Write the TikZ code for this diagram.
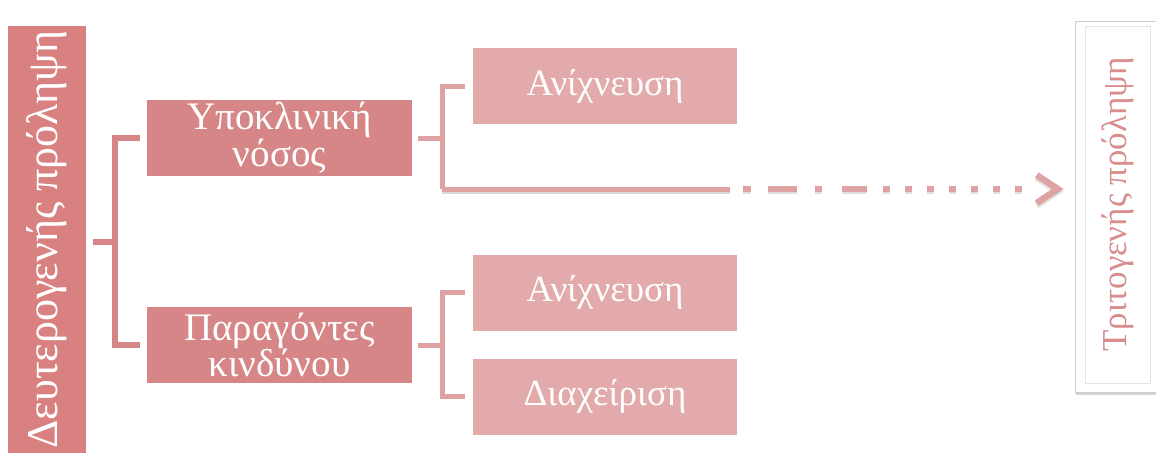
\documentclass[tikz,border=0pt]{standalone}
\usepackage{fontspec}
\setmainfont{Liberation Serif}
\usetikzlibrary{arrows.meta,shadows,calc}
\definecolor{rose}{RGB}{217,128,128}
\definecolor{roseMid}{RGB}{214,134,134}
\definecolor{roseLight}{RGB}{226,170,170}
\definecolor{roseLine}{RGB}{222,162,162}
\definecolor{roseText}{RGB}{216,140,140}
\definecolor{frameGray}{RGB}{205,205,205}

\begin{document}
\begin{tikzpicture}[x=1pt,y=-1pt,
  base/.style={rectangle, inner sep=0pt, text=white, align=center},
  sidebox/.style={base, fill=rose, minimum width=427pt, minimum height=78pt,
    font=\fontsize{44}{46}\selectfont},
  lvlone/.style={base, fill=roseMid, minimum width=265pt, minimum height=76pt,
    font=\fontsize{39}{32}\selectfont},
  lvltwo/.style={base, fill=roseLight, minimum width=264pt, minimum height=76pt,
    font=\fontsize{37}{40}\selectfont},
  brone/.style={draw=roseMid, line width=5.5pt},
  brtwo/.style={draw=roseLine, line width=5pt},
  dashpat/.style={dash pattern=on 0pt off 13pt on 8pt off 17pt on 29pt off 18pt on 7pt off 20pt
      on 25pt off 16pt on 7pt off 15pt on 7pt off 15pt on 7pt off 15pt on 7pt off 15pt
      on 7pt off 15pt on 7pt off 15pt on 7pt off 80pt},
  solidshadow/.style={preaction={draw=black, opacity=0.15, line width=5pt,
      transform canvas={yshift=-2.5pt}}},
  dashshadow/.style={preaction={draw=black, opacity=0.12, line width=5.5pt, dashpat,
      transform canvas={yshift=-2.5pt}}},
  dashpart/.style={draw=roseLine, line width=5.5pt, dashpat},
  outerframe/.style={rectangle, fill=white, draw=frameGray, line width=0.8pt,
    minimum width=91pt, minimum height=371pt, inner sep=0pt,
    drop shadow={opacity=0.35, shadow xshift=1pt, shadow yshift=-3pt}},
  innerframe/.style={rectangle, draw=black!10, line width=1pt, inner sep=0pt,
    minimum width=357pt, minimum height=65pt, text=roseText,
    font=\fontsize{35}{38}\selectfont}
]
\useasboundingbox (0,0) rectangle (1156,453);

% vertical title on the left
\node[sidebox, rotate=90] (L) at (47,239.5) {Δευτερογενής πρόληψη};

% first level
\node[lvlone] (A) at (279.5,138) {Υποκλινική\\νόσος};
\node[lvlone] (B) at (279.5,345) {Παραγόντες\\κινδύνου};

% second level
\node[lvltwo] (A1) at (605,86) {Ανίχνευση};
\node[lvltwo] (B1) at (605,292.5) {Ανίχνευση};
\node[lvltwo] (B2) at (605,396.5) {Διαχείριση};

% framed box on the right
\node[outerframe] (R) at (1120.5,206.5) {};
\node[innerframe, rotate=90] (Rt) at (1117.5,204.5) {Τριτογενής πρόληψη};

% bracket from the title to the first level
\coordinate (j1) at (115,242);
\draw[brone] ([xshift=7pt]L.south |- j1) -- (j1);
\draw[brone] ([xshift=-7pt]A.west) -| (j1) |- ([xshift=-7pt]B.west);

% bracket from the first upper box
\coordinate (j2) at (442,138);
\coordinate (c1) at (442,189);
\coordinate (c2) at (730,189);
\draw[brtwo] ([xshift=6pt]A.east) -- (j2);
\draw[brtwo] ([xshift=-8pt]A1.west) -| (c1);
\draw[brtwo, solidshadow] (c1) -- (c2);

% fading arrow towards the right box
\draw[dashpart, dashshadow, -{Straight Barb[length=21pt, width=28pt, line width=6.5pt]}]
  (c2) -- ([xshift=-11pt]R.west |- c2);

% bracket from the lower first-level box
\coordinate (j3) at (442,345);
\draw[brtwo] ([xshift=6pt]B.east) -- (j3);
\draw[brtwo] ([xshift=-8pt]B1.west) -| (j3) |- ([xshift=-8pt]B2.west);
\end{tikzpicture}
\end{document}
